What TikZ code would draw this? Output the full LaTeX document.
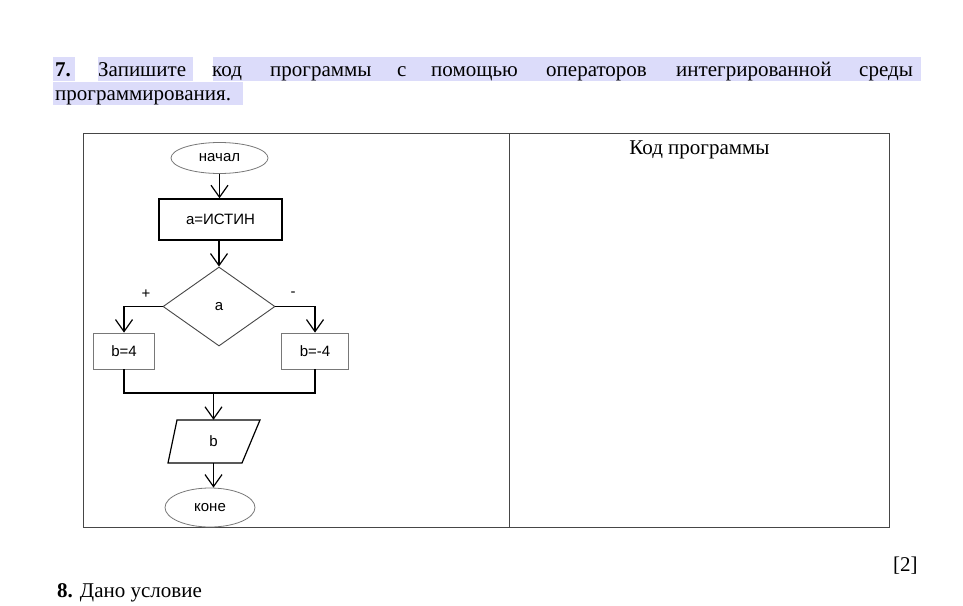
\documentclass[tikz,border=0pt]{standalone}
\usepackage{fontspec}
\setmainfont{Liberation Serif}
\setsansfont{Liberation Sans}
\usetikzlibrary{shapes.geometric,arrows.meta}
\definecolor{hilite}{RGB}{220,220,250}
\definecolor{grayline}{RGB}{120,120,120}
\definecolor{tblline}{RGB}{70,70,70}
\begin{document}
\begin{tikzpicture}[x=1pt,y=-1pt,
  txt/.style={inner sep=0pt,anchor=base west,font=\fontsize{21}{24}\selectfont},
  fc/.style={font=\sffamily\fontsize{15}{17}\selectfont,inner sep=0pt},
  ell/.style={fc,ellipse,draw=grayline,line width=0.8pt},
  conn/.style={draw=black,line width=1.2pt},
  arr/.style={conn,-{Straight Barb[length=12pt,width=17pt,line width=1.2pt]}}]
\useasboundingbox (0,0) rectangle (963,605);
\fill[white] (0,0) rectangle (963,605);
% highlights
\fill[hilite] (53,57) rectangle (75,81);
\fill[hilite] (98,57) rectangle (193,81);
\fill[hilite] (213,57) rectangle (921,81);
\fill[hilite] (53,82) rectangle (243,105);
% heading words
\node[txt] (w0) at (55,76) {\textbf{7.}};
\node[txt] (w1) at (98,76) {Запишите};
\node[txt] (w2) at (212,76) {код};
\node[txt] (w3) at (270,76) {программы};
\node[txt] (w4) at (397,76) {с};
\node[txt] (w5) at (431,76) {помощью};
\node[txt] (w6) at (546,76) {операторов};
\node[txt] (w7) at (676,76) {интегрированной};
\node[txt] (w8) at (859,76) {среды};
\node[txt] (w9) at (55,100) {программирования.};
% table
\draw[tblline,line width=1pt] (83,133) rectangle (889,527);
\draw[tblline,line width=1pt] (509,133) -- (509,527);
\node[txt,anchor=base] (code) at (699.5,154) {Код программы};
% flowchart
\node[ell,minimum width=97pt,minimum height=31pt] (start) at (219.5,158) {начал};
\node[fc,draw=black,line width=1.5pt,minimum width=123pt,minimum height=41pt] (assign) at (220.5,219.5) {a=ИСТИН};
\node[fc,diamond,draw=tblline,line width=0.9pt,minimum width=112pt,minimum height=79pt,aspect=1.42] (dia) at (219,306.5) {a};
\node[fc,draw=grayline,line width=0.8pt,minimum width=61pt,minimum height=36pt] (b4) at (124,351) {b=4};
\node[fc,draw=grayline,line width=0.8pt,minimum width=67pt,minimum height=36pt] (bm4) at (315,351) {b=-4};
\node[fc] (plus) at (146,294) {+};
\node[fc] (minus) at (293,294) {-};
\draw[black,line width=1.2pt] (177,420) -- (260,420) -- (242,463) -- (168,463) -- cycle;
\node[fc,minimum height=43pt,minimum width=60pt] (out) at (213.5,441.5) {b};
\node[ell,minimum width=90pt,minimum height=39pt] (end) at (210,507.5) {коне};
\coordinate (m) at (213.5,393);
\draw[arr] (start.south) -- (start.south |- assign.north);
\draw[arr] (assign.south -| dia.north) -- (dia.north);
\draw[arr] (dia.west) -| (b4.north);
\draw[arr] (dia.east) -| (bm4.north);
\draw[conn] (b4.south) |- (m) -| (bm4.south);
\draw[arr] (m) -- (out.north);
\draw[arr] (out.south) -- (out.south |- end.north);
% bottom texts
\node[txt] (mark) at (893,571) {[2]};
\node[txt] (next) at (57,597) {\textbf{8.} Дано условие};
\end{tikzpicture}
\end{document}
